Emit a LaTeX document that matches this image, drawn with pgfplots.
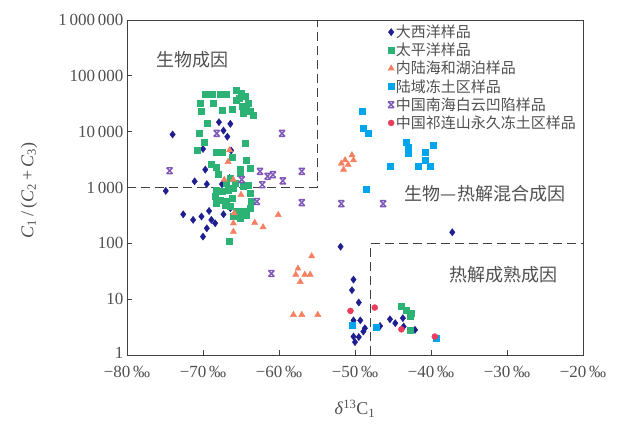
\documentclass[border=0pt]{standalone}
\usepackage{fontspec}
\setmainfont{Liberation Serif}
\newfontfamily\cjk{Noto Sans CJK SC}
\usepackage{pgfplots}
\pgfplotsset{compat=1.18}
\definecolor{atl}{RGB}{30,30,145}
\definecolor{pac}{RGB}{45,178,118}
\definecolor{inl}{RGB}{246,128,98}
\definecolor{prm}{RGB}{0,165,235}
\definecolor{scs}{RGB}{128,88,186}
\definecolor{qil}{RGB}{236,60,92}
\definecolor{txt}{RGB}{80,80,80}
\pgfdeclareplotmark{hx}{%
  \pgfpathmoveto{\pgfqpoint{-\pgfplotmarksize}{\pgfplotmarksize}}%
  \pgfpathlineto{\pgfqpoint{\pgfplotmarksize}{-\pgfplotmarksize}}%
  \pgfpathmoveto{\pgfqpoint{-\pgfplotmarksize}{-\pgfplotmarksize}}%
  \pgfpathlineto{\pgfqpoint{\pgfplotmarksize}{\pgfplotmarksize}}%
  \pgfpathmoveto{\pgfqpoint{-\pgfplotmarksize}{\pgfplotmarksize}}%
  \pgfpathlineto{\pgfqpoint{\pgfplotmarksize}{\pgfplotmarksize}}%
  \pgfpathmoveto{\pgfqpoint{-\pgfplotmarksize}{-\pgfplotmarksize}}%
  \pgfpathlineto{\pgfqpoint{\pgfplotmarksize}{-\pgfplotmarksize}}%
  \pgfusepathqstroke}
\begin{document}
\begin{tikzpicture}
\begin{axis}[
  width=456pt, height=335pt, scale only axis,
  xmin=-80, xmax=-20, ymin=1, ymax=1000000, ymode=log,
  xtick={-80,-70,-60,-50,-40,-30,-20},
  xticklabels={−80\,‰,−70\,‰,−60\,‰,−50\,‰,−40\,‰,−30\,‰,−20\,‰},
  ytick={1,10,100,1000,10000,100000,1000000},
  yticklabels={\raisebox{5pt}{1},10,100,1\,000,10\,000,100\,000,1\,000\,000},
  yminorticks=false,
  tick align=inside, xtick pos=bottom, ytick pos=left,
  major tick length=5pt,
  axis line style={draw=black!75, line width=0.9pt},
  tick style={draw=black!75, line width=0.8pt},
  ticklabel style={font=\fontsize{17}{18}\selectfont, text=txt},
  xticklabel style={yshift=-8pt},
  xlabel={\textit{δ}\textsuperscript{13}C\textsubscript{1}},
  ylabel={\textit{C}\textsubscript{1}\,/\,(\textit{C}\textsubscript{2}\,+\,\textit{C}\textsubscript{3})},
  label style={font=\fontsize{18}{20}\selectfont, text=txt},
  xlabel style={at={(axis description cs:0.5,-0.16)}, anchor=center},
  ylabel style={at={(axis description cs:-0.215,0.49)}, anchor=center},
  legend style={at={(axis description cs:0.572,0.99)}, anchor=north west,
    draw=none, fill=none, font=\cjk\fontsize{15}{16}\selectfont, text=txt,
    row sep=1pt, inner sep=0pt, nodes={inner sep=1.5pt}},
  legend cell align=left,
]
% dashed region boundaries
\addplot[forget plot, draw=black!75, line width=1pt, dash pattern=on 9pt off 5pt] coordinates {(-80,1000) (-55,1000) (-55,1000000)};
\addplot[forget plot, draw=black!75, line width=1pt, dash pattern=on 9pt off 5pt] coordinates {(-48,1) (-48,100) (-20,100)};

% Atlantic
\addplot[only marks, mark=diamond*, mark size=3.6pt, color=atl] coordinates {
(-74.0,8913)(-67.9,14791)(-66.4,13804)(-67.3,10470)(-66.8,8128)(-70.0,4898)(-66.3,4600)
(-69.7,2089)(-66.5,1479)(-71.1,1288)(-69.5,1148)(-67.5,1148)(-74.9,871)
(-72.6,331)(-71.3,263)(-70.2,302)(-69.2,380)(-68.9,263)(-68.4,229)(-67.3,331)(-69.5,186)(-66.4,427)(-70.0,132)
(-51.9,87)(-37.2,158)(-50.2,22.4)(-50.4,14.5)(-49.5,8.71)(-50.2,4.17)(-49.3,4.17)(-48.7,3.02)(-48.9,2.63)
(-50.2,2.14)(-49.5,2.1)(-50.0,1.70)(-46.7,3.31)(-45.4,4.37)(-44.7,3.72)(-43.7,4.57)(-43.6,3.24)(-42.1,2.82)
};
\addlegendentry{大西洋样品}
% Pacific
\addplot[only marks, mark=square*, mark size=3pt, color=pac] coordinates {
(-69.7,46774)(-68.8,46774)(-67.8,46774)(-67.0,46774)(-70.4,33000)(-68.6,32359)(-70.2,22909)(-67.5,23988)(-66.2,25119)
(-65.6,56000)(-65.0,48000)(-65.2,39811)(-64.5,42658)(-64.1,32359)(-64.9,28184)(-63.8,22909)(-63.4,19953)(-64.7,21380)(-65.6,37154)(-64.3,26303)
(-69.5,14125)(-70.5,9550)(-69.9,6607)(-64.5,6166)(-70.8,4677)(-68.2,4365)(-67.5,4365)(-66.2,3548)(-64.3,3090)
(-68.9,2570)(-68.2,2291)(-65.1,2138)(-63.8,2239)(-68.0,1698)
(-66.4,1479)(-65.1,1778)(-65.8,1202)(-66.9,1202)
(-68.2,912)(-67.5,851)(-66.7,912)(-66.0,977)(-64.7,1047)(-64.0,1122)
(-68.4,692)(-67.8,603)(-66.9,562)(-66.2,646)(-63.8,794)
(-68.2,525)(-67.1,490)(-66.4,457)(-63.6,562)
(-65.6,372)(-64.7,372)(-63.8,427)(-66.0,302)(-65.1,282)(-64.3,324)(-66.5,107)
(-43.9,7.41)(-43.2,6.46)(-42.6,5.62)(-42.8,4.90)(-42.8,2.82)
};
\addlegendentry{太平洋样品}
% Inland seas and lakes
\addplot[only marks, mark=triangle*, mark size=3.6pt, color=inl] coordinates {
(-66.5,4677)(-66.7,2884)(-67.2,1380)(-66.0,1380)(-65.0,741)(-65.9,347)(-66.0,229)(-66.0,162)(-63.2,234)(-62.1,195)(-60.1,324)
(-55.7,58.9)(-57.5,35.5)(-57.8,27.5)(-56.6,27.5)(-55.9,27.5)(-57.2,20.4)(-58.1,5.25)(-57.0,5.25)(-54.9,5.25)
(-50.4,3802)(-51.3,3090)(-50.2,3090)(-51.8,2692)(-50.9,2570)(-51.5,2089)
};
\addlegendentry{内陆海和湖泊样品}
% Permafrost
\addplot[only marks, mark=square*, mark size=3pt, color=prm] coordinates {
(-49.0,22909)(-48.9,11482)(-48.2,9333)(-43.2,6607)(-43.0,5370)(-43.0,4074)(-39.7,5754)(-40.8,4266)(-40.8,3090)
(-41.7,2455)(-40.1,2455)(-45.4,2399)(-48.5,933)(-50.4,3.47)(-47.2,3.09)(-39.3,2.04)
};
\addlegendentry{陆域冻土区样品}
% South China Sea Baiyun sag
\addplot[only marks, mark=hx, mark size=3pt, color=scs, line width=1.4pt] coordinates {
(-68.2,9333)(-59.6,9333)(-74.4,1995)(-62.5,1950)(-61.5,1585)(-60.8,1698)(-59.5,1318)(-57.0,1950)(-62.2,1122)
(-64.9,1380)(-62.9,562)(-57.0,537)(-61.0,28.8)(-51.8,513)(-46.3,513)
};
\addlegendentry{中国南海白云凹陷样品}
% Qilian permafrost
\addplot[only marks, mark=*, mark size=3pt, color=qil] coordinates {
(-50.6,6.17)(-47.4,7.08)(-43.9,2.88)(-39.5,2.14)
};
\addlegendentry{中国祁连山永久冻土区样品}

\node[font=\cjk\fontsize{18}{20}\selectfont, text=txt] at (axis cs:-71.4,195000) {生物成因};
\node[font=\cjk\fontsize{18}{20}\selectfont, text=txt] at (axis cs:-32.9,760) {生物—热解混合成因};
\node[font=\cjk\fontsize{18}{20}\selectfont, text=txt] at (axis cs:-30.5,27) {热解成熟成因};
\end{axis}
\path ([shift={(-127pt,-70pt)}]current axis.south west) rectangle ([shift={(39pt,20pt)}]current axis.north east);
\end{tikzpicture}
\end{document}
